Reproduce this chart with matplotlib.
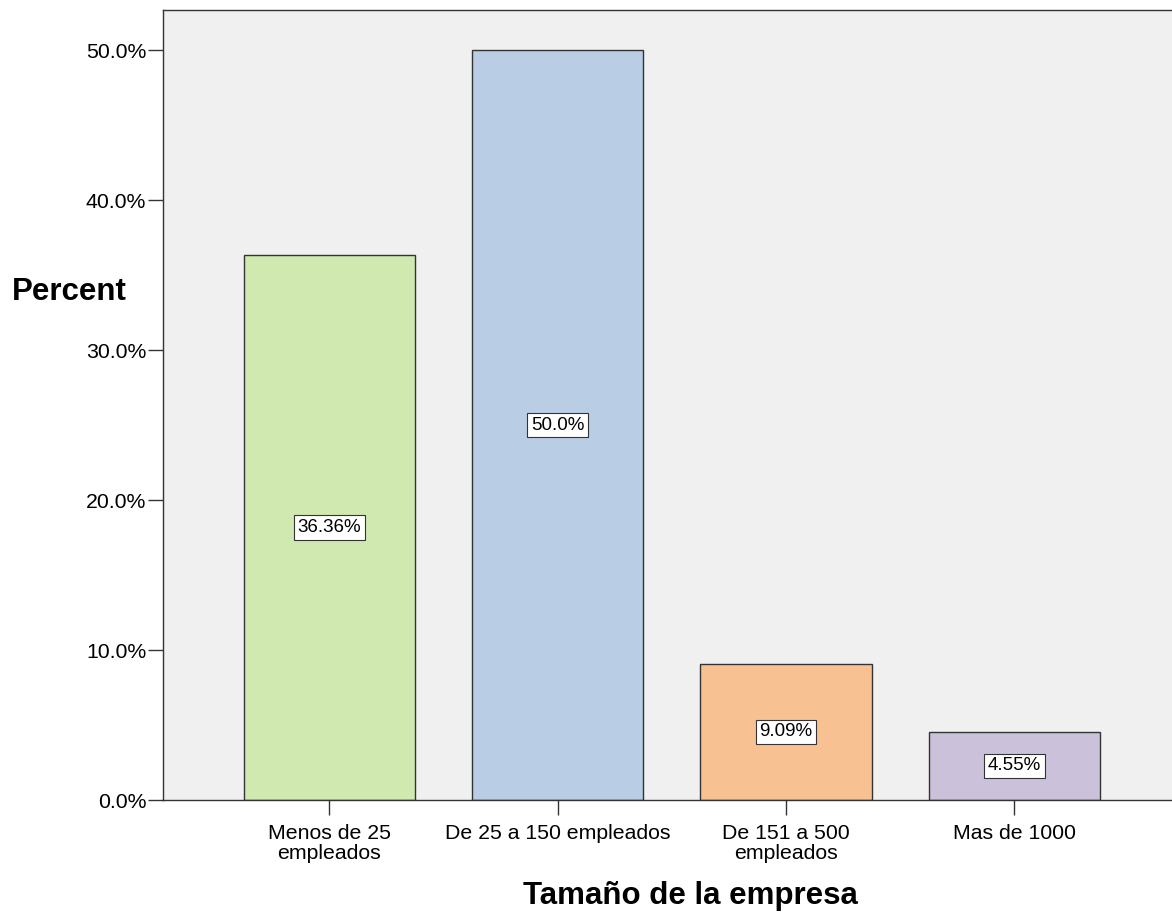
import matplotlib
matplotlib.use("Agg")
import matplotlib.pyplot as plt
from matplotlib.ticker import FuncFormatter

categorias = ["Menos de 25\nempleados", "De 25 a 150 empleados",
              "De 151 a 500\nempleados", "Mas de 1000"]
porcentajes = [36.36, 50.0, 9.09, 4.55]
etiquetas = ["36.36%", "50.0%", "9.09%", "4.55%"]
colores = ["#d0e9b0", "#b9cde5", "#f8c192", "#ccc1da"]

plt.rcParams["font.family"] = ["Liberation Sans", "DejaVu Sans"]

fig = plt.figure(figsize=(11.72, 9.16), dpi=100)
ax = fig.add_axes([163 / 1172, 116 / 916, 1009 / 1172, 790 / 916])
ax.set_facecolor("#f0f0f0")

x = range(len(categorias))
ax.bar(x, porcentajes, width=0.75, color=colores, edgecolor="#333333", linewidth=1, zorder=2)
for xi, v, lab in zip(x, porcentajes, etiquetas):
    ax.text(xi, v / 2, lab, ha="center", va="center", fontsize=13.5, zorder=3,
            bbox=dict(boxstyle="square,pad=0.2", facecolor="white", edgecolor="#333333", linewidth=0.8))

ax.set_xlim(-0.729, 3.69)
ax.set_ylim(0, 52.67)
ax.set_yticks([0, 10, 20, 30, 40, 50])
ax.yaxis.set_major_formatter(FuncFormatter(lambda v, _: f"{v:.1f}%"))
ax.set_xticks(list(x))
ax.set_xticklabels(categorias, fontsize=15.3, linespacing=1.05)
ax.tick_params(axis="y", labelsize=15.3, length=11, width=1, color="#333333", pad=1)
ax.tick_params(axis="x", length=11, width=1, color="#333333", pad=6.5)

for s in ["left", "bottom", "top"]:
    ax.spines[s].set_color("#333333")
    ax.spines[s].set_linewidth(1)
ax.spines["right"].set_visible(False)

fig.text(12 / 1172, 1 - 292 / 916, "Percent", fontsize=22.5, fontweight="bold", ha="left", va="center")
fig.text(690 / 1172, 1 - 896 / 916, "Tamaño de la empresa", fontsize=22.5, fontweight="bold",
         ha="center", va="center")

fig.savefig("out.png", dpi=100)
